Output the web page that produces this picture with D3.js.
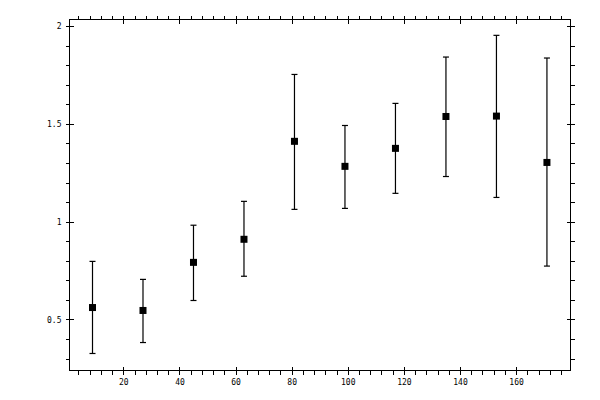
<!DOCTYPE html>
<html>
<head>
<meta charset="utf-8">
<script src="https://cdn.jsdelivr.net/npm/d3@7"></script>
<style>
  body { margin: 0; background: #fff; }
  svg { display: block; }
  .tick text { font-family: "DejaVu Sans Mono", monospace; font-size: 8px; fill: #000; }
</style>
</head>
<body>
<div id="chart"></div>
<script>
const width = 600;
const height = 400;

// data
const xs = [9, 27, 45, 63, 81, 99, 117, 135, 153, 171];
const means = [0.561, 0.546, 0.792, 0.910, 1.411, 1.283, 1.375, 1.538, 1.540, 1.303];
const upper = [0.797, 0.705, 0.982, 1.104, 1.753, 1.492, 1.605, 1.842, 1.953, 1.837];
const lower = [0.326, 0.382, 0.597, 0.721, 1.063, 1.068, 1.145, 1.231, 1.124, 0.773];

const xMajor = [20, 40, 60, 80, 100, 120, 140, 160];
const yMajor = [0.5, 1, 1.5, 2];
const yLabels = ["0.5", "1", "1.5", "2"];

const plotLeft = 69.5, plotRight = 570.5, plotTop = 19.5, plotBottom = 370.5;

const x = d3.scaleLinear().domain([0.8, 179.4]).range([plotLeft, plotRight]);
const y = d3.scaleLinear().domain([0.239, 2.034]).range([plotBottom, plotTop]);

const xMinor = d3.range(4, 179, 4).filter(v => v % 20 !== 0);
const yMinor = d3.range(3, 21).map(v => v / 10).filter(v => (v * 2) % 1 !== 0);

const svg = d3.select("#chart")
    .append("svg")
    .attr("width", width)
    .attr("height", height);

function addAxis(axis, tx, ty) {
    const g = svg.append("g")
        .attr("transform", `translate(${tx},${ty})`)
        .attr("shape-rendering", "crispEdges")
        .call(axis);
    g.select(".domain").remove();
    g.selectAll("line").attr("stroke", "#000");
    return g;
}

// bottom
addAxis(d3.axisBottom(x).tickValues(xMinor).tickSize(4).tickFormat(""), 0, plotBottom);
addAxis(d3.axisBottom(x).tickValues(xMajor).tickSize(4).tickPadding(7).tickFormat(d3.format("d")), 0, plotBottom)
    .selectAll("text").attr("dy", "0.45em");
addAxis(d3.axisBottom(x).tickValues(xMajor).tickSize(-4).tickFormat(""), 0, plotBottom);
// top
addAxis(d3.axisTop(x).tickValues(xMinor).tickSize(4).tickFormat(""), 0, plotTop);
addAxis(d3.axisTop(x).tickValues(xMajor).tickSize(4).tickFormat(""), 0, plotTop);
addAxis(d3.axisTop(x).tickValues(xMajor).tickSize(-4).tickFormat(""), 0, plotTop);
// left
addAxis(d3.axisLeft(y).tickValues(yMinor).tickSize(4).tickFormat(""), plotLeft, 0);
addAxis(d3.axisLeft(y).tickValues(yMajor).tickSize(4).tickPadding(4)
    .tickFormat((d, i) => yLabels[i]), plotLeft, 0);
addAxis(d3.axisLeft(y).tickValues(yMajor).tickSize(-4).tickFormat(""), plotLeft, 0);
// right
addAxis(d3.axisRight(y).tickValues(yMinor).tickSize(4).tickFormat(""), plotRight, 0);
addAxis(d3.axisRight(y).tickValues(yMajor).tickSize(4).tickFormat(""), plotRight, 0);
addAxis(d3.axisRight(y).tickValues(yMajor).tickSize(-4).tickFormat(""), plotRight, 0);

// frame
svg.append("rect")
    .attr("x", plotLeft).attr("y", plotTop)
    .attr("width", plotRight - plotLeft).attr("height", plotBottom - plotTop)
    .attr("fill", "none").attr("stroke", "#000")
    .attr("shape-rendering", "crispEdges");

const pts = xs.map((d, i) => ({ x: d, m: means[i], hi: upper[i], lo: lower[i] }));

const bars = svg.append("g").attr("stroke", "#000").attr("stroke-width", 1.2);
bars.selectAll("line.v").data(pts).join("line")
    .attr("class", "v")
    .attr("x1", d => x(d.x)).attr("x2", d => x(d.x))
    .attr("y1", d => y(d.lo)).attr("y2", d => y(d.hi));
bars.selectAll("line.hi").data(pts).join("line")
    .attr("class", "hi")
    .attr("x1", d => x(d.x) - 3).attr("x2", d => x(d.x) + 3)
    .attr("y1", d => y(d.hi)).attr("y2", d => y(d.hi));
bars.selectAll("line.lo").data(pts).join("line")
    .attr("class", "lo")
    .attr("x1", d => x(d.x) - 3).attr("x2", d => x(d.x) + 3)
    .attr("y1", d => y(d.lo)).attr("y2", d => y(d.lo));

svg.append("g").selectAll("rect").data(pts).join("rect")
    .attr("x", d => x(d.x) - 3.5)
    .attr("y", d => y(d.m) - 3.5)
    .attr("width", 7).attr("height", 7)
    .attr("fill", "#000");
</script>
</body>
</html>
